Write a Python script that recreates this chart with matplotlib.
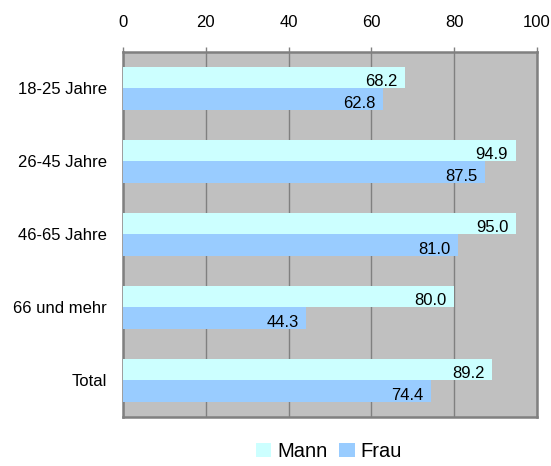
import matplotlib
matplotlib.use("Agg")
import matplotlib.pyplot as plt
import numpy as np

plt.rcParams['font.family'] = ['Liberation Sans', 'DejaVu Sans']

categories = ["18-25 Jahre", "26-45 Jahre", "46-65 Jahre", "66 und mehr", "Total"]
mann = [68.2, 94.9, 95.0, 80.0, 89.2]
frau = [62.8, 87.5, 81.0, 44.3, 74.4]

fig = plt.figure(figsize=(5.51, 4.66), dpi=100)
ax = fig.add_axes([0.2232, 0.1052, 0.7514, 0.7833])
ax.set_facecolor("#C0C0C0")

y = np.arange(len(categories))
h = 0.3
b1 = ax.barh(y - h / 2, mann, height=h, color="#CCFFFF", label="Mann", zorder=3)
b2 = ax.barh(y + h / 2, frau, height=h, color="#99CCFF", label="Frau", zorder=3)

# value labels inside the bar ends
for bars, vals in ((b1, mann), (b2, frau)):
    for bar, v in zip(bars, vals):
        ax.text(v - 1.9, bar.get_y() + bar.get_height() / 2 + 0.06, "%.1f" % v,
                ha="right", va="center", fontsize=12, zorder=4)

ax.set_xlim(0, 100)
ax.set_ylim(len(categories) - 0.5, -0.5)
ax.set_xticks(range(0, 101, 20))
ax.set_yticks(y)
ax.set_yticklabels(categories)
ax.xaxis.tick_top()
ax.tick_params(axis="x", length=3.6, width=1, color="#808080", labelsize=12, pad=12.5)
ax.tick_params(axis="y", length=0, labelsize=12, pad=11.5)
ax.grid(axis="x", color="#808080", linewidth=1, zorder=1)
for s in ax.spines.values():
    s.set_color("#808080")
    s.set_linewidth(1.8)

fig.legend(loc="lower center", bbox_to_anchor=(0.597, -0.028), ncol=2, frameon=False,
           fontsize=14.5, handlelength=0.75, handleheight=0.75, handletextpad=0.3,
           columnspacing=0.6)

fig.savefig("out.png", dpi=100)
